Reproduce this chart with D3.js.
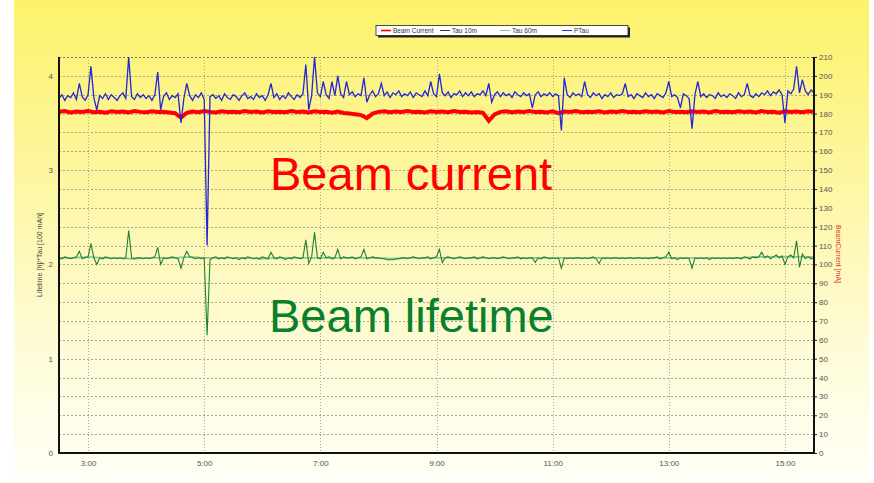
<!DOCTYPE html>
<html><head><meta charset="utf-8">
<script src="https://cdn.jsdelivr.net/npm/d3@7"></script>
<style>
html,body{margin:0;padding:0;background:#fff;}
svg{display:block;}
</style></head>
<body>
<svg id="chart" width="874" height="483"></svg>
<script>
// ---- data (time in minutes of day) ----
const fineStart = 150, fineStep = 3;     // 2:30, every 3 min
const coarseStart = 150, coarseStep = 6; // beam current every 6 min
const tau60Start = 150, tau60Step = 15;

const xTickMinutes = [180, 300, 420, 540, 660, 780, 900];
const xTickLabels = ["3:00","5:00","7:00","9:00","11:00","13:00","15:00"];
const leftTicks = [0,1,2,3,4];
const rightTicks = d3.range(0, 211, 10);

const seriesNames = ["Beam Current","Tau 10m","Tau 60m","PTau"];
const seriesColors = ["#ff0000","#3a3a3a","#9ab89f","#3333dd"];

// PTau (left axis units)
const pTau = [
3.76,3.80,3.74,3.79,3.77,3.82,3.75,3.92,3.78,3.74,
3.80,4.10,3.77,3.64,3.79,3.76,3.81,3.75,3.80,3.77,
3.74,3.79,3.82,3.76,4.20,3.78,3.75,3.81,3.77,3.80,
3.76,3.79,3.74,3.80,4.04,3.64,3.78,3.82,3.75,3.79,
3.77,3.81,3.50,3.76,3.92,3.79,3.74,3.80,3.77,3.82,
3.75,2.20,3.78,3.80,3.76,3.79,3.74,3.81,3.77,3.75,
3.80,3.78,3.74,3.79,3.82,3.76,3.78,3.75,3.81,3.77,
3.79,3.74,3.80,3.92,3.77,3.81,3.75,3.79,3.76,3.82,
3.78,3.75,3.80,3.77,3.81,4.12,3.64,3.79,4.20,3.82,
3.78,3.94,3.80,3.76,3.94,3.79,4.00,3.81,3.77,3.94,
3.80,3.83,3.78,3.81,3.79,3.98,3.72,3.80,3.84,3.78,
3.81,3.92,3.79,3.83,3.77,3.82,3.80,3.84,3.78,3.81,
3.79,3.83,3.77,3.82,3.80,3.78,3.84,3.79,3.94,3.81,
3.78,4.02,3.82,3.79,3.83,3.77,3.81,3.80,3.84,3.78,
3.82,3.79,3.83,3.78,3.81,3.80,3.84,3.79,3.92,3.72,
3.80,3.83,3.78,3.82,3.79,3.81,3.77,3.83,3.80,3.78,
3.82,3.79,3.81,3.66,3.80,3.83,3.78,3.81,3.79,3.82,
3.78,3.81,3.79,3.42,3.98,3.80,3.77,3.82,3.79,3.81,
3.78,3.94,3.80,3.77,3.82,3.79,3.81,3.76,3.80,3.78,
3.82,3.77,3.80,3.79,3.81,3.92,3.78,3.80,3.76,3.81,
3.79,3.77,3.82,3.78,3.80,3.76,3.81,3.79,3.77,3.82,
3.94,3.78,3.80,3.77,3.66,3.81,3.79,3.76,3.44,3.80,
3.94,3.78,3.81,3.77,3.80,3.79,3.76,3.82,3.78,3.80,
3.77,3.81,3.79,3.76,3.82,3.78,3.80,3.92,3.79,3.77,
3.81,3.78,3.82,3.80,3.84,3.79,3.83,3.81,3.85,3.80,
3.50,3.84,3.81,3.86,4.10,3.82,3.96,3.84,3.80,3.85,
3.82];

// Tau 10m (left axis units)
const tau10 = [
2.07,2.06,2.08,2.07,2.06,2.07,2.08,2.14,2.06,2.07,
2.08,2.22,2.07,2.00,2.07,2.06,2.08,2.07,2.06,2.07,
2.06,2.07,2.06,2.07,2.36,2.07,2.06,2.07,2.07,2.06,
2.07,2.06,2.07,2.08,2.18,2.00,2.07,2.06,2.07,2.08,
2.07,2.06,1.96,2.07,2.14,2.08,2.07,2.06,2.07,2.06,
2.07,1.25,2.05,2.07,2.08,2.06,2.07,2.06,2.08,2.07,
2.06,2.07,2.05,2.07,2.06,2.08,2.07,2.06,2.07,2.06,
2.08,2.07,2.06,2.13,2.07,2.06,2.08,2.07,2.05,2.07,
2.06,2.08,2.07,2.06,2.07,2.26,2.01,2.08,2.34,2.07,
2.06,2.13,2.07,2.08,2.06,2.07,2.16,2.06,2.08,2.07,
2.07,2.08,2.06,2.07,2.08,2.16,2.06,2.07,2.08,2.07,
2.07,2.06,2.06,2.05,2.05,2.05,2.06,2.06,2.07,2.07,
2.06,2.07,2.08,2.07,2.06,2.07,2.07,2.08,2.06,2.07,
2.08,2.16,2.02,2.07,2.08,2.07,2.06,2.07,2.08,2.07,
2.06,2.07,2.07,2.08,2.06,2.07,2.08,2.07,2.06,2.07,
2.07,2.06,2.07,2.08,2.07,2.06,2.07,2.07,2.08,2.06,
2.07,2.06,2.07,2.07,2.02,2.07,2.06,2.08,2.07,2.06,
2.07,2.06,2.07,1.96,2.07,2.06,2.07,2.06,2.07,2.07,
2.06,2.07,2.06,2.07,2.08,2.06,2.01,2.07,2.06,2.07,
2.06,2.07,2.07,2.06,2.07,2.06,2.07,2.07,2.06,2.07,
2.07,2.06,2.07,2.06,2.07,2.07,2.08,2.06,2.07,2.08,
2.13,2.06,2.07,2.05,2.07,2.06,2.07,2.06,1.96,2.07,
2.06,2.07,2.06,2.07,2.05,2.07,2.06,2.07,2.06,2.07,
2.06,2.07,2.06,2.07,2.07,2.06,2.08,2.07,2.06,2.08,
2.07,2.08,2.13,2.07,2.09,2.06,2.08,2.10,2.07,2.09,
2.00,2.08,2.10,2.07,2.25,1.97,2.11,2.06,2.08,2.06,
2.07];

// Tau 60m (left axis units), every 15 min
const tau60 = [
2.07,2.07,2.08,2.07,2.07,2.06,2.07,2.07,2.07,2.08,
2.07,2.07,2.07,2.07,2.06,2.07,2.07,2.07,2.07,2.07,
2.07,2.07,2.07,2.06,2.07,2.07,2.07,2.07,2.07,2.07,
2.07,2.07,2.07,2.07,2.07,2.07,2.07,2.07,2.07,2.07,
2.07,2.07,2.07,2.07,2.07,2.07,2.07,2.07,2.08,2.08,
2.08,2.08,2.08];

// Beam current (mA, right axis), every 6 min
const beamCurrent = [
180.9,181.3,180.6,181.1,180.8,181.4,180.7,181.0,180.5,181.2,
180.8,181.1,180.6,181.3,180.9,180.7,181.2,180.8,181.0,180.6,
180.2,177.8,180.4,181.1,180.7,181.3,180.9,180.6,181.2,180.8,
181.0,180.7,181.3,180.9,181.1,180.6,181.2,180.8,181.0,180.7,
181.3,180.9,181.1,180.6,181.2,180.8,181.0,180.5,181.1,180.3,
180.0,179.6,179.2,177.6,180.0,180.9,181.2,180.7,181.1,180.8,
181.3,180.9,181.0,180.6,181.2,180.8,181.1,180.7,181.3,180.9,
181.0,180.6,180.8,180.4,176.2,179.6,180.9,181.2,180.7,181.1,
180.8,181.3,180.9,181.0,180.6,181.2,180.2,181.1,180.8,181.3,
180.7,181.0,180.9,181.2,180.6,181.1,180.8,181.3,180.9,181.0,
180.7,181.2,180.8,181.1,180.6,181.3,180.9,181.0,180.7,181.2,
180.8,181.1,180.6,181.3,180.9,181.0,180.7,181.2,180.8,181.1,
180.6,181.3,180.9,181.0,180.5,181.2,180.8,181.1,180.7,181.2,
180.9];

// ---- drawing ----
const svg = d3.select("#chart");
const plot = {l: 59, r: 814, t: 57, b: 453};

const defs = svg.append("defs");
const grad = defs.append("linearGradient").attr("id","bg").attr("x1",0).attr("y1",0).attr("x2",0).attr("y2",1);
grad.append("stop").attr("offset","0%").attr("stop-color","#fcf26a");
grad.append("stop").attr("offset","35%").attr("stop-color","#fdf69e");
grad.append("stop").attr("offset","70%").attr("stop-color","#fefbd4");
grad.append("stop").attr("offset","100%").attr("stop-color","#fffff6");
defs.append("clipPath").attr("id","clip").append("rect")
  .attr("x",plot.l).attr("y",plot.t).attr("width",plot.r-plot.l).attr("height",plot.b-plot.t);

svg.append("rect").attr("x",14).attr("y",0).attr("width",855).attr("height",478).attr("fill","url(#bg)");

const x = d3.scaleLinear().domain([150, 930]).range([plot.l, plot.r]);
const yR = d3.scaleLinear().domain([0, 210]).range([plot.b, plot.t]);
const yL = d3.scaleLinear().domain([0, 4.2]).range([plot.b, plot.t]);

// grid
const grid = svg.append("g");
grid.selectAll("line.h").data(rightTicks.filter(d => d > 0)).enter().append("line")
  .attr("x1", plot.l).attr("x2", plot.r)
  .attr("y1", d => Math.round(yR(d)) + 0.5).attr("y2", d => Math.round(yR(d)) + 0.5)
  .attr("stroke", d => d === 210 ? "#6f6f6f" : "#aaa78e").attr("stroke-width", 1)
  .attr("stroke-dasharray", "2,2");
grid.selectAll("line.v").data(xTickMinutes).enter().append("line")
  .attr("x1", d => Math.round(x(d)) + 0.5).attr("x2", d => Math.round(x(d)) + 0.5)
  .attr("y1", plot.t).attr("y2", plot.b)
  .attr("stroke", "#aaa78e").attr("stroke-width", 1).attr("stroke-dasharray", "1,2");

// series
const g = svg.append("g").attr("clip-path","url(#clip)");
const mk = (start, step, scale) => d3.line()
  .x((d,i) => x(start + i*step)).y(d => scale(d));

g.append("path").datum(tau60).attr("fill","none").attr("stroke","#8cc596").attr("stroke-width",1.8)
  .attr("d", mk(tau60Start, tau60Step, yL));
g.append("path").datum(tau10).attr("fill","none").attr("stroke","#1f7f3a").attr("stroke-width",1.1)
  .attr("d", mk(fineStart, fineStep, yL));
g.append("path").datum(beamCurrent).attr("fill","none").attr("stroke","#ff0000").attr("stroke-width",4)
  .attr("d", mk(coarseStart, coarseStep, yR));
g.append("path").datum(pTau).attr("fill","none").attr("stroke","#2424d8").attr("stroke-width",1.3)
  .attr("d", mk(fineStart, fineStep, yL));

// axes
const tickFont = "Liberation Sans, Arial, sans-serif";
const axL = svg.append("g").attr("transform",`translate(${plot.l},0)`)
  .call(d3.axisLeft(yL).tickValues(leftTicks).tickSize(0).tickPadding(6).tickFormat(d3.format("d")));
const axR = svg.append("g").attr("transform",`translate(${plot.r},0)`)
  .call(d3.axisRight(yR).tickValues(rightTicks).tickSize(3).tickPadding(2));
const axB = svg.append("g").attr("transform",`translate(0,${plot.b})`)
  .call(d3.axisBottom(x).tickValues(xTickMinutes).tickSize(0).tickPadding(7).tickFormat((d,i) => xTickLabels[i]));
[axL, axR, axB].forEach(a => {
  a.selectAll("text").attr("font-family", tickFont).attr("font-size", 8).attr("fill", "#555");
  a.select(".domain").remove();
  a.selectAll(".tick line").attr("stroke","#222");
});
svg.append("line").attr("x1",plot.l).attr("x2",plot.l).attr("y1",plot.t).attr("y2",plot.b+1).attr("stroke","#111").attr("stroke-width",2);
svg.append("line").attr("x1",plot.r).attr("x2",plot.r).attr("y1",plot.t).attr("y2",plot.b+1).attr("stroke","#111").attr("stroke-width",2);
svg.append("line").attr("x1",plot.l-1).attr("x2",plot.r+1).attr("y1",plot.b).attr("y2",plot.b).attr("stroke","#111").attr("stroke-width",2);

// axis titles
svg.append("text").attr("transform",`translate(42,255) rotate(-90)`).attr("text-anchor","middle")
  .attr("font-family",tickFont).attr("font-size",7).attr("fill","#444").text("Lifetime [h]/*Tau [100 mAh]");
svg.append("text").attr("transform",`translate(836,254) rotate(90)`).attr("text-anchor","middle")
  .attr("font-family",tickFont).attr("font-size",7).attr("fill","#e03030").text("BeamCurrent [mA]");

// legend
const lg = svg.append("g");
lg.append("rect").attr("x",378).attr("y",27.5).attr("width",252).attr("height",10).attr("fill","#222");
lg.append("rect").attr("x",376).attr("y",25.5).attr("width",252).attr("height",10).attr("fill","#fff").attr("stroke","#222").attr("stroke-width",0.8);
const legX = [381, 440, 500, 562];
seriesNames.forEach((n,i) => {
  lg.append("line").attr("x1",legX[i]).attr("x2",legX[i]+10).attr("y1",30.5).attr("y2",30.5)
    .attr("stroke",seriesColors[i]).attr("stroke-width", i===0 ? 1.6 : 1);
  lg.append("text").attr("x",legX[i]+12).attr("y",33).attr("font-family",tickFont).attr("font-size",6.5)
    .attr("fill","#333").text(n);
});

// annotations
svg.append("text").attr("x",270).attr("y",190).attr("font-family","Liberation Sans, Arial, sans-serif")
  .attr("font-size",47).attr("fill","#ff0000").text("Beam current");
svg.append("text").attr("x",269).attr("y",332).attr("font-family","Liberation Sans, Arial, sans-serif")
  .attr("font-size",47).attr("fill","#0a7f2e").text("Beam lifetime");
</script>
</body></html>
